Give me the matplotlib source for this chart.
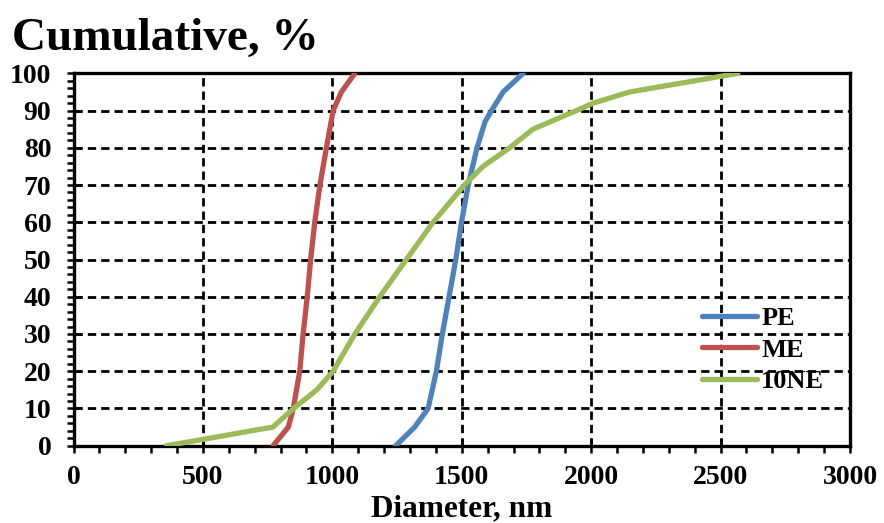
import matplotlib
matplotlib.use("Agg")
import matplotlib.pyplot as plt
from matplotlib.ticker import MultipleLocator

plt.rcParams['font.family'] = ['Liberation Serif', 'DejaVu Serif']
plt.rcParams['font.weight'] = 'bold'

# PE
pe_x = [1245, 1318, 1370, 1402, 1425, 1451, 1477, 1499, 1525, 1559, 1590, 1615, 1660, 1737]
pe_y = [0, 5, 10, 20, 30, 40, 50, 60, 70, 80, 87, 90, 95, 100]

# ME
me_x = [771, 830, 849, 874, 887, 903, 916, 932, 952, 977, 1003, 1035, 1087]
me_y = [0, 5, 10, 20, 30, 40, 50, 60, 70, 80, 90, 95, 100]

# 10NE
ne_x = [360, 770, 850, 940, 1003, 1087, 1183, 1286, 1389, 1510, 1582, 1685, 1775, 1943, 2008, 2149, 2317, 2567]
ne_y = [0, 5, 10, 15, 20, 30, 40, 50, 60, 70, 75, 80, 85, 90, 92, 95, 97, 100]

series = [("PE", pe_x, pe_y, "#4F81BD"),
          ("ME", me_x, me_y, "#C0504D"),
          ("10NE", ne_x, ne_y, "#9BBB59")]

fig = plt.figure(figsize=(8.84, 5.23), dpi=100)
ax = fig.add_axes([0.0832, 0.1478, 0.8783, 0.712])

for name, xs, ys, col in series:
    ax.plot(xs, ys, color=col, lw=3.8, label=name, solid_capstyle='round',
            solid_joinstyle='round', zorder=3)

ax.set_xlim(0, 3000)
ax.set_ylim(0, 100)
ax.xaxis.set_major_locator(MultipleLocator(500))
ax.xaxis.set_minor_locator(MultipleLocator(100))
ax.yaxis.set_major_locator(MultipleLocator(10))
ax.yaxis.set_minor_locator(MultipleLocator(2))

ax.grid(True, which='major', color='black', lw=2, linestyle=(0, (3, 1.8)))
ax.set_axisbelow(True)
for s in ax.spines.values():
    s.set_linewidth(2.4)

ax.tick_params(which='major', direction='inout', length=10, width=1.8, labelsize=20)
ax.tick_params(which='minor', direction='out', length=5, width=1.8)
ax.tick_params(axis='x', which='major', pad=9)
ax.tick_params(axis='y', which='major', pad=11)

ax.set_xlabel("Diameter, nm", fontsize=22.5, fontweight='bold', labelpad=3)
fig.text(0.0136, 0.904, "Cumulative, %", fontsize=34, fontweight='bold', va='baseline', ha='left')

ax.legend(loc='center left', bbox_to_anchor=(0.7938, 0.3308), bbox_transform=fig.transFigure,
          frameon=False, handlelength=2.1, handletextpad=0.15,
          labelspacing=0.3, borderpad=0, borderaxespad=0, prop={'weight': 'bold', 'size': 19})

fig.savefig("out.png", dpi=100)
